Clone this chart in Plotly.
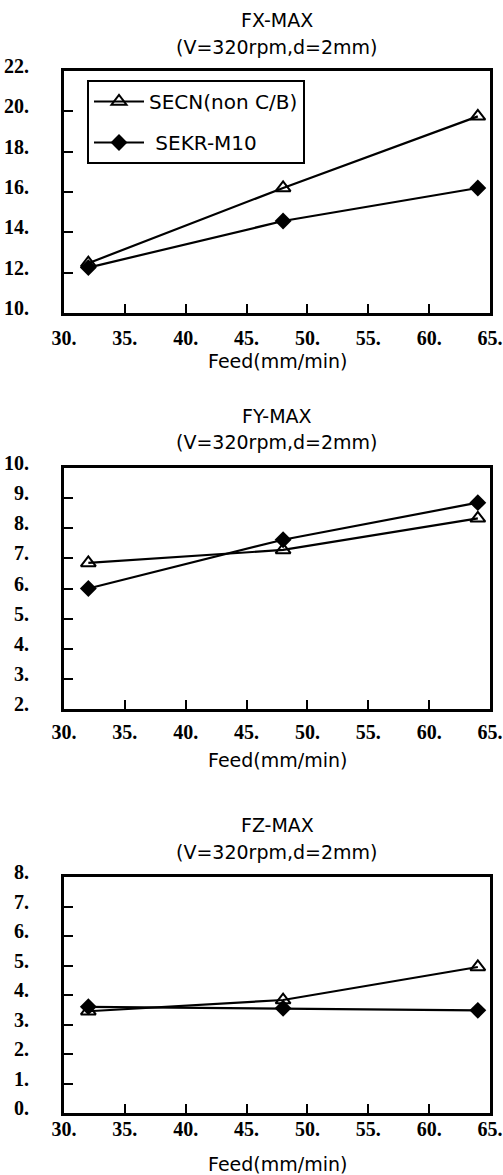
import plotly.graph_objects as go

W, H = 503, 1175

feed = [32, 48, 64]
fx_secn = [12.47, 16.2, 19.75]
fx_sekr = [12.25, 14.56, 16.2]
fy_secn = [6.85, 7.28, 8.33]
fy_sekr = [6.0, 7.62, 8.85]
fz_secn = [3.45, 3.83, 4.95]
fz_sekr = [3.6, 3.55, 3.48]

x_ticks = [30, 35, 40, 45, 50, 55, 60, 65]
x_ticktext = ["30.", "35.", "40.", "45.", "50.", "55.", "60.", "65."]
fx_ticks = [10, 12, 14, 16, 18, 20, 22]
fy_ticks = [2, 3, 4, 5, 6, 7, 8, 9, 10]
fz_ticks = [0, 1, 2, 3, 4, 5, 6, 7, 8]

titles = ["FX-MAX", "FY-MAX", "FZ-MAX"]
subtitle = "(V=320rpm,d=2mm)"
xlabel = "Feed(mm/min)"
names = ["SECN(non C/B)", " SEKR-M10"]

SANS = "DejaVu Sans"
SERIF = "Liberation Serif"

# panel boxes in pixels (top, bottom)
boxes = [(71, 313), (468, 709), (877, 1113)]
title_y = [(20, 47), (416, 442), (825, 852)]
feed_y = [361, 760, 1164]
xlab_standoff = [5, 3, -4]

def py(p):
    return 1 - p / H

fig = go.Figure()

series = [(fx_secn, fx_sekr, fx_ticks), (fy_secn, fy_sekr, fy_ticks), (fz_secn, fz_sekr, fz_ticks)]

for i, (s1, s2, yt) in enumerate(series):
    k = "" if i == 0 else str(i + 1)
    fig.add_trace(go.Scatter(
        x=feed, y=s1, mode="lines+markers", name=names[0],
        xaxis="x" + k, yaxis="y" + k, legendgroup="a", showlegend=(i == 0),
        line=dict(color="black", width=2.2),
        marker=dict(symbol="triangle-up-open", size=13, color="black", line=dict(width=2, color="black")),
    ))
    fig.add_trace(go.Scatter(
        x=feed, y=s2, mode="lines+markers", name=names[1],
        xaxis="x" + k, yaxis="y" + k, legendgroup="b", showlegend=(i == 0),
        line=dict(color="black", width=2.2),
        marker=dict(symbol="diamond", size=13, color="black"),
    ))
    top, bot = boxes[i]
    axcommon = dict(showline=True, linecolor="black", linewidth=3, mirror=True,
                    ticks="inside", ticklen=9, tickwidth=2, tickcolor="black",
                    showgrid=False, zeroline=False, automargin=False,
                    tickfont=dict(family=SERIF, size=20, color="black", weight="bold"))
    fig.update_layout(**{
        "xaxis" + k: dict(domain=[0, 1], range=[30, 65], anchor="y" + k,
                          tickvals=x_ticks, ticktext=x_ticktext,
                          ticklabelstandoff=xlab_standoff[i], **axcommon),
        "yaxis" + k: dict(domain=[py(bot), py(top)], range=[yt[0], yt[-1]], anchor="x" + k,
                          tickvals=yt, ticktext=[f"{v}." for v in yt],
                          ticklabelstandoff=28, ticklabelshift=-5, **axcommon),
    })
    fig.add_annotation(text=titles[i], x=0.5, y=py(title_y[i][0]), xref="paper", yref="paper",
                       showarrow=False, yanchor="middle", font=dict(family=SANS, size=19, color="black"))
    fig.add_annotation(text=subtitle, x=0.5, y=py(title_y[i][1]), xref="paper", yref="paper",
                       showarrow=False, yanchor="middle", font=dict(family=SANS, size=19, color="black"))
    fig.add_annotation(text=xlabel, x=0.5, y=py(feed_y[i]), xref="paper", yref="paper",
                       showarrow=False, yanchor="middle", font=dict(family=SANS, size=19, color="black"))

fig.update_layout(
    width=W, height=H,
    margin=dict(l=64, r=13, t=0, b=0, autoexpand=False),
    paper_bgcolor="white", plot_bgcolor="white",
    legend=dict(x=(87 - 64) / 426, y=py(80), xanchor="left", yanchor="top",
                bordercolor="black", borderwidth=2, bgcolor="white",
                font=dict(family=SANS, size=20, color="black"),
                tracegroupgap=12, itemwidth=50),
    showlegend=True,
)

fig.write_html("out.html")
